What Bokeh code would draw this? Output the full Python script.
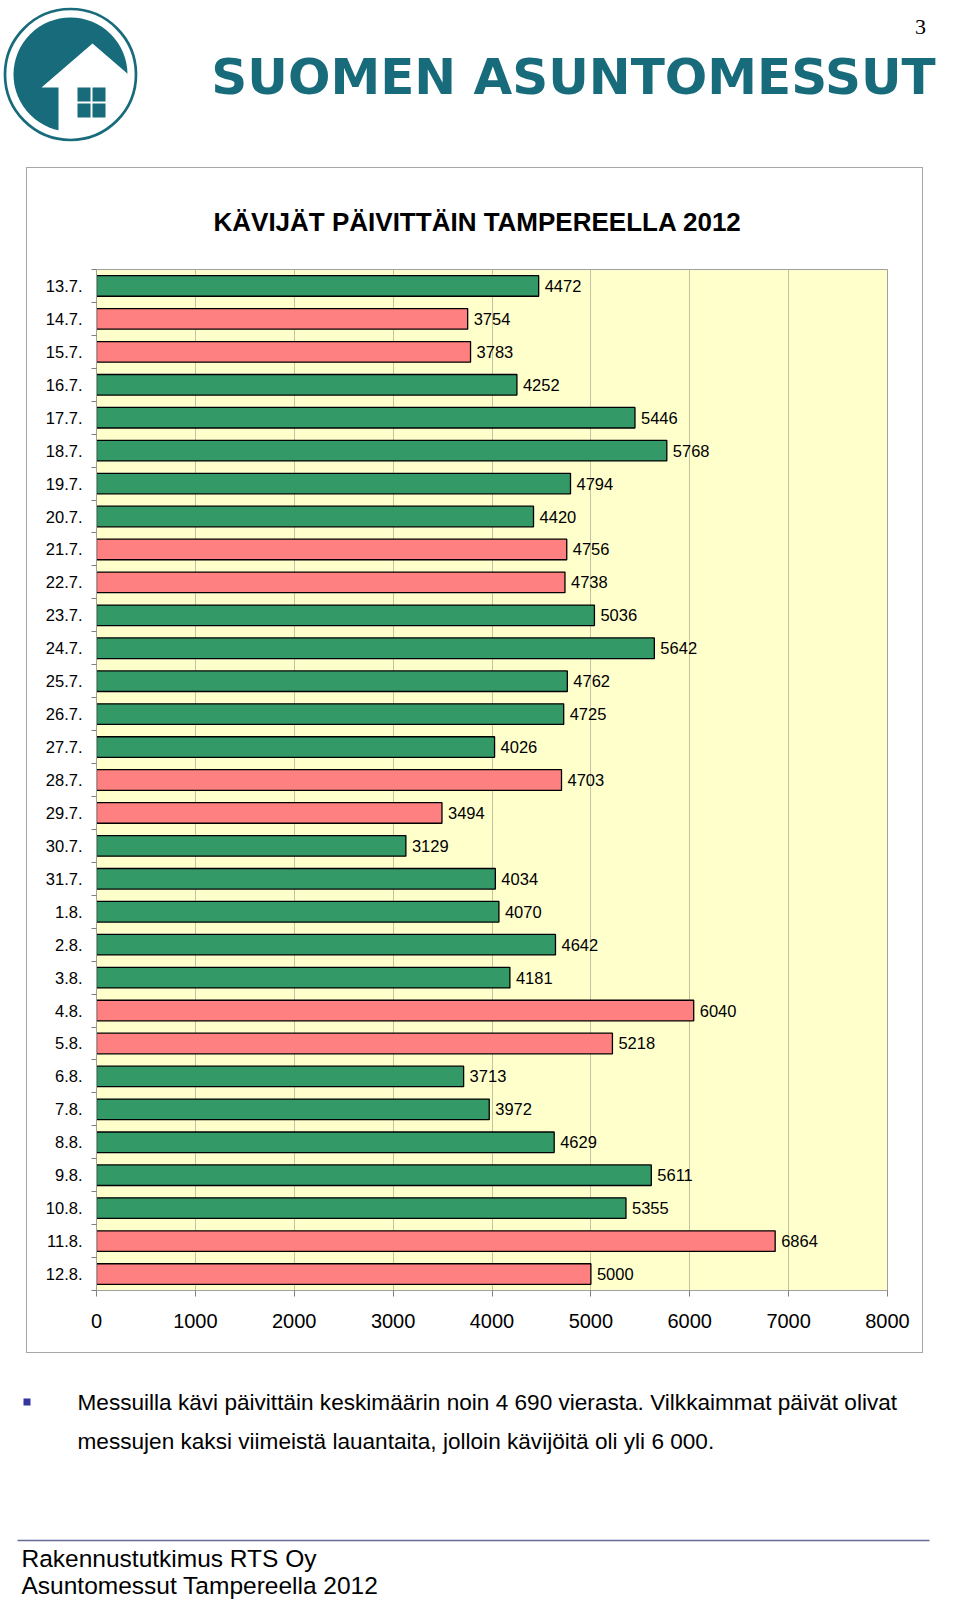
from bokeh.plotting import figure
from bokeh.layouts import column
from bokeh.models import Range1d, FixedTicker, ColumnDataSource
from bokeh.core.properties import value
from bokeh.embed import file_html
from bokeh.resources import INLINE

# ---------------- data ----------------
dates = ["13.7.", "14.7.", "15.7.", "16.7.", "17.7.", "18.7.", "19.7.", "20.7.",
         "21.7.", "22.7.", "23.7.", "24.7.", "25.7.", "26.7.", "27.7.", "28.7.",
         "29.7.", "30.7.", "31.7.", "1.8.", "2.8.", "3.8.", "4.8.", "5.8.",
         "6.8.", "7.8.", "8.8.", "9.8.", "10.8.", "11.8.", "12.8."]
visitors = [4472, 3754, 3783, 4252, 5446, 5768, 4794, 4420, 4756, 4738, 5036,
            5642, 4762, 4725, 4026, 4703, 3494, 3129, 4034, 4070, 4642, 4181,
            6040, 5218, 3713, 3972, 4629, 5611, 5355, 6864, 5000]
weekend = [0, 1, 1, 0, 0, 0, 0, 0, 1, 1, 0, 0, 0, 0, 0, 1, 1, 0, 0, 0, 0, 0,
           1, 1, 0, 0, 0, 0, 0, 1, 1]
x_ticks = [0, 1000, 2000, 3000, 4000, 5000, 6000, 7000, 8000]

chart_title = "KÄVIJÄT PÄIVITTÄIN TAMPEREELLA 2012"
brand = "SUOMEN ASUNTOMESSUT"
page_no = "3"
para_lines = ["Messuilla kävi päivittäin keskimäärin noin 4 690 vierasta. Vilkkaimmat päivät olivat",
              "messujen kaksi viimeistä lauantaita, jolloin kävijöitä oli yli 6 000."]
footer_lines = ["Rakennustutkimus RTS Oy", "Asuntomessut Tampereella 2012"]

# ---------------- styles ----------------
GREEN = "#339966"
PINK = "#FF8080"
TEAL = "#176B7B"
FONT = "Liberation Sans"

# ---------------- header ----------------
h = figure(width=960, height=165, x_range=Range1d(0, 960), y_range=Range1d(165, 0),
           x_axis_location=None, y_axis_location=None, min_border=0,
           output_backend="svg", toolbar_location=None, tools="")
h.frame_align = False
h.grid.visible = False
h.outline_line_color = None
h.background_fill_color = "white"
h.border_fill_color = "white"

h.circle(x=[70], y=[74], radius=57, fill_color=TEAL, line_color=None)
h.patch(x=[41, 92, 150, 150, 58, 58], y=[87, 43, 93, 145, 145, 87],
        fill_color="white", line_color=None)
h.quad(left=[77, 92, 77, 92], right=[90, 105, 90, 105],
       top=[87, 87, 103, 103], bottom=[101, 101, 117, 117],
       fill_color=TEAL, line_color=None)
h.circle(x=[70], y=[74], radius=65.5, fill_color=None, line_color=TEAL, line_width=2.7)
h.text(x=[573], y=[76], text=[brand], text_font=value("DejaVu Sans"),
       text_font_style="bold", text_font_size="50px", text_color=TEAL,
       text_align="center", text_baseline="middle")
h.text(x=[920], y=[26], text=[page_no], text_font=value("Liberation Serif"),
       text_font_size="22px", text_color="black",
       text_align="center", text_baseline="middle")

# ---------------- chart ----------------
p = figure(frame_width=791, frame_height=1021,
           min_border_left=69, min_border_right=35, min_border_top=101, min_border_bottom=62,
           x_range=Range1d(0, 8000), y_range=Range1d(len(dates) - 0.5, -0.5),
           output_backend="svg", toolbar_location=None, tools="",
           margin=(3, 38, 8, 27))
p.frame_align = False
p.styles = {"outline": "1px solid #A6A6A6", "outline-offset": "0px"}
p.background_fill_color = "#FFFFCC"
p.border_fill_color = "white"
p.outline_line_color = "#A0A0A0"

p.title.text = chart_title
p.title.align = "left"
p.title.offset = 117
p.title.text_font = FONT
p.title.text_font_style = "bold"
p.title.text_font_size = "26px"
p.title.text_color = "black"
p.title.standoff = 66

src = ColumnDataSource(dict(
    pos=list(range(len(dates))),
    visitors=visitors,
    label=[str(v) for v in visitors],
    color=[PINK if w else GREEN for w in weekend],
))
p.hbar(y="pos", left=0, right="visitors", height=0.625, fill_color="color",
       line_color="black", line_width=1.3, source=src)
p.text(x="visitors", y="pos", text="label", x_offset=6, text_baseline="middle",
       text_align="left", text_font=value(FONT), text_font_size="16.5px",
       text_color="black", source=src)

# y axis (categories)
yax = p.yaxis[0]
yax.ticker = FixedTicker(ticks=list(range(len(dates))),
                         minor_ticks=[i - 0.5 for i in range(len(dates) + 1)])
yax.major_label_overrides = {i: d for i, d in enumerate(dates)}
yax.major_tick_out = 0
yax.major_tick_in = 0
yax.minor_tick_out = 5
yax.minor_tick_in = 0
yax.minor_tick_line_color = "#808080"
yax.axis_line_color = "#A0A0A0"
yax.major_label_standoff = 9
yax.major_label_text_font = FONT
yax.major_label_text_font_size = "16.5px"
yax.major_label_text_color = "black"

# x axis (values)
xax = p.xaxis[0]
xax.ticker = FixedTicker(ticks=x_ticks)
xax.major_tick_out = 6
xax.major_tick_in = 0
xax.minor_tick_line_color = None
xax.major_tick_line_color = "#808080"
xax.axis_line_color = "#A0A0A0"
xax.major_label_standoff = 17
xax.major_label_text_font = FONT
xax.major_label_text_font_size = "20px"
xax.major_label_text_color = "black"

p.xgrid.ticker = FixedTicker(ticks=x_ticks)
p.xgrid.grid_line_color = "#C4C2A0"
p.ygrid.grid_line_color = None

# ---------------- footer ----------------
f = figure(width=960, height=241, x_range=Range1d(0, 960), y_range=Range1d(241, 0),
           x_axis_location=None, y_axis_location=None, min_border=0,
           output_backend="svg", toolbar_location=None, tools="")
f.frame_align = False
f.grid.visible = False
f.outline_line_color = None
f.background_fill_color = "white"
f.border_fill_color = "white"

f.quad(left=[23], right=[30], top=[38], bottom=[45], fill_color="#3535A0", line_color=None)
f.text(x=[77, 77], y=[42, 81], text=para_lines, text_font=value(FONT),
       text_font_size="22.6px", text_color="black", text_align="left",
       text_baseline="middle")
f.segment(x0=[17], y0=[180], x1=[929], y1=[180], line_color="#6A6A98", line_width=1.5)
f.text(x=[21, 21], y=[198, 225], text=footer_lines, text_font=value(FONT),
       text_font_size="24.5px", text_color="black", text_align="left",
       text_baseline="middle")

layout = column(h, p, f, spacing=0)
open("out.html", "w").write(file_html(layout, INLINE))
